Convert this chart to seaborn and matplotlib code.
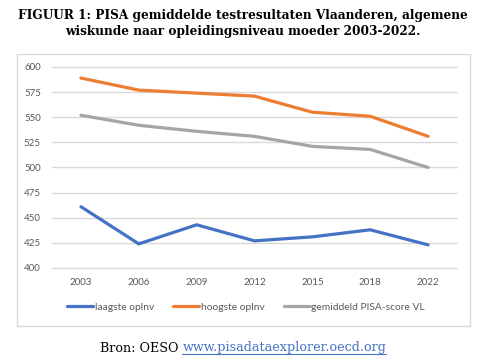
import matplotlib
matplotlib.use("Agg")
import matplotlib.pyplot as plt
import seaborn as sns
import pandas as pd
from matplotlib.patches import Rectangle
from matplotlib.lines import Line2D

years = ["2003", "2006", "2009", "2012", "2015", "2018", "2022"]
laagste = [461, 424, 443, 427, 431, 438, 423]
hoogste = [589, 577, 574, 571, 555, 551, 531]
gemiddeld = [552, 542, 536, 531, 521, 518, 500]
series_names = ["laagste oplnv", "hoogste oplnv", "gemiddeld PISA-score VL"]
colors = ["#4472C4", "#ED7D31", "#A5A5A5"]
yticks = [400, 425, 450, 475, 500, 525, 550, 575, 600]

df = pd.DataFrame({
    "jaar": years * 3,
    "score": laagste + hoogste + gemiddeld,
    "reeks": [series_names[0]] * 7 + [series_names[1]] * 7 + [series_names[2]] * 7,
})

sns.set_theme(style="white")
plt.rcParams["font.family"] = ["Lato", "DejaVu Sans"]

W, H = 485, 360
fig = plt.figure(figsize=(W / 100, H / 100), dpi=100)

def fx(px):
    return px / W

def fy(py):
    return 1 - py / H

# chart border
fig.patches.append(Rectangle((fx(17), fy(326)), fx(470) - fx(17), fy(54) - fy(326),
                             transform=fig.transFigure, fill=False,
                             edgecolor="#D9D9D9", linewidth=1.0))

ax = fig.add_axes([fx(52), fy(268), fx(457) - fx(52), fy(67) - fy(268)])
sns.lineplot(data=df, x="jaar", y="score", hue="reeks", hue_order=series_names,
             palette=colors, linewidth=2.3, sort=False, legend=False, ax=ax,
             clip_on=False)
ax.set_xlim(-0.5, 6.5)
ax.set_ylim(400, 600)
ax.set_yticks(yticks)
ax.yaxis.grid(True, color="#D9D9D9", linewidth=1.0, clip_on=False)
ax.set_axisbelow(True)
for s in ax.spines.values():
    s.set_visible(False)
ax.set_xlabel("")
ax.set_ylabel("")
ax.tick_params(axis="both", length=0, labelsize=7, labelcolor="#595959")
ax.tick_params(axis="x", pad=7)
ax.tick_params(axis="y", pad=8)

handles = [Line2D([0], [0], color=c, linewidth=2.3) for c in colors]
fig.legend(handles, series_names, loc="center", bbox_to_anchor=(fx(246), fy(307)),
           ncol=3, frameon=False, fontsize=7.4, labelcolor="#595959",
           handlelength=2.5, handletextpad=0.15, columnspacing=1.9)

serif = ["DejaVu Serif"]
fig.text(0.5, fy(15), "FIGUUR 1: PISA gemiddelde testresultaten Vlaanderen, algemene",
         ha="center", va="center", fontsize=8.7, fontweight="bold", family=serif, color="#000000")
fig.text(0.5, fy(32), "wiskunde naar opleidingsniveau moeder 2003-2022.",
         ha="center", va="center", fontsize=8.7, fontweight="bold", family=serif, color="#000000")

t1 = fig.text(0, fy(348), "Bron: OESO ", ha="left", va="center", fontsize=9.2,
              family=serif, color="#000000")
t2 = fig.text(0, fy(348), "www.pisadataexplorer.oecd.org", ha="left", va="center",
              fontsize=9.2, family=serif, color="#4472C4")
fig.canvas.draw()
w1 = t1.get_window_extent().width
w2 = t2.get_window_extent().width
x0 = 243 - (w1 + w2) / 2
t1.set_x(x0 / W)
t2.set_x((x0 + w1) / W)
fig.canvas.draw()
bb = t2.get_window_extent()
y_ul = (bb.y0 + 0.5) / H
fig.add_artist(Line2D([bb.x0 / W, bb.x1 / W], [y_ul, y_ul], transform=fig.transFigure,
                      color="#4472C4", linewidth=0.8))

fig.savefig("out.png", dpi=100)
